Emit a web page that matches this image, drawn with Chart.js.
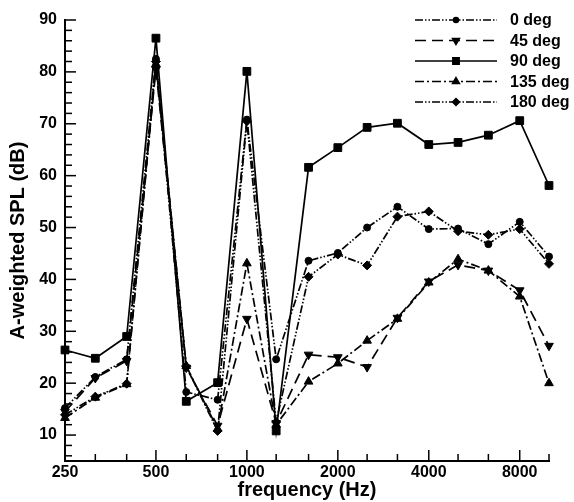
<!DOCTYPE html>
<html>
<head>
  <title>A-weighted SPL</title>
  <script src="https://cdn.jsdelivr.net/npm/chart.js"></script>
  <style>
    body { margin: 0; background: #fff; }
    #wrap { width: 574px; height: 502px; }
  </style>
</head>
<body>
  <div id="wrap"><canvas id="splChart" width="574" height="502"></canvas></div>
  <script>
    // 1/3 octave band centre frequencies (Hz)
    const freqs = [250, 315, 400, 500, 630, 800, 1000, 1250, 1600, 2000, 2500, 3150, 4000, 5000, 6300, 8000, 10000];
    const octaveLabels = [250, 500, 1000, 2000, 4000, 8000];
    const yTicks = [10, 20, 30, 40, 50, 60, 70, 80, 90];

    // A-weighted SPL (dB)
    const deg0   = [15.2, 21.2, 24.6, 82.5, 18.3, 16.8, 70.8, 24.6, 43.6, 45.1, 50.0, 54.0, 49.7, 49.8, 46.8, 51.1, 44.4];
    const deg45  = [14.5, 21.0, 24.3, 80.5, 23.0, 11.8, 32.4, 12.3, 25.5, 25.0, 23.1, 32.6, 39.6, 42.8, 41.7, 37.9, 27.2];
    const deg90  = [26.4, 24.8, 29.0, 86.5, 16.5, 20.1, 80.1, 10.8, 61.6, 65.4, 69.3, 70.1, 66.0, 66.4, 67.8, 70.6, 58.1];
    const deg135 = [13.3, 17.2, 19.8, 81.5, 23.3, 11.2, 43.1, 12.0, 20.3, 23.8, 28.2, 32.4, 39.4, 43.9, 41.7, 36.7, 20.0];
    const deg180 = [13.9, 17.4, 19.9, 82.0, 23.2, 10.8, 70.5, 12.5, 40.5, 44.8, 42.7, 52.1, 53.1, 49.3, 48.6, 49.7, 43.0];

    const FONT = "'Liberation Sans', Arial, sans-serif";

    function series(label, values, dash, style, radius, rotation) {
      return {
        label: label,
        data: freqs.map((f, i) => ({ x: f, y: values[i] })),
        borderColor: '#000',
        backgroundColor: '#000',
        borderWidth: 1.7,
        borderDash: dash,
        pointStyle: style,
        pointRadius: radius,
        pointRotation: rotation || 0,
        pointBorderWidth: 1,
        pointBackgroundColor: '#000',
        pointBorderColor: '#000',
        tension: 0,
        clip: false
      };
    }

    // inward ticks and the line-with-marker legend
    const decorPlugin = {
      id: 'decor',
      afterDraw(chart) {
        const ctx = chart.ctx;
        const xs = chart.scales.x, ys = chart.scales.y;
        const left = chart.chartArea.left, bottom = chart.chartArea.bottom;
        ctx.save();
        ctx.strokeStyle = '#000';
        ctx.lineWidth = 1.5;
        ctx.setLineDash([]);
        for (let v = 6; v <= 90; v += 2) {
          const y = ys.getPixelForValue(v);
          const len = v % 10 === 0 ? 11 : 7;
          ctx.beginPath(); ctx.moveTo(left, y); ctx.lineTo(left + len, y); ctx.stroke();
        }
        freqs.forEach(f => {
          const x = xs.getPixelForValue(f);
          const len = octaveLabels.includes(f) ? 11 : 7;
          ctx.beginPath(); ctx.moveTo(x, bottom); ctx.lineTo(x, bottom - len); ctx.stroke();
        });

        // legend
        const x0 = 415, x1 = 497, tx = 510;
        chart.data.datasets.forEach((ds, i) => {
          const y = 20 + i * 20.5;
          ctx.strokeStyle = '#000';
          ctx.lineWidth = 1.5;
          ctx.setLineDash(ds.borderDash);
          ctx.beginPath(); ctx.moveTo(x0, y); ctx.lineTo(x1, y); ctx.stroke();
          ctx.setLineDash([]);
          ctx.fillStyle = '#000';
          Chart.helpers.drawPoint(ctx, {
            pointStyle: ds.pointStyle, rotation: ds.pointRotation,
            radius: ds.pointRadius - 1, borderWidth: 1
          }, (x0 + x1) / 2, y);
          ctx.font = 'bold 16px ' + FONT;
          ctx.textBaseline = 'middle';
          ctx.textAlign = 'left';
          ctx.fillText(ds.label, tx, y + 1);
        });
        ctx.restore();
      }
    };

    new Chart(document.getElementById('splChart'), {
      type: 'line',
      data: {
        datasets: [
          series('0 deg', deg0, [8, 2, 1.5, 2, 1.5, 2], 'circle', 3.5),
          series('45 deg', deg45, [11, 6], 'triangle', 5, 180),
          series('90 deg', deg90, [], 'rect', 5.5),
          series('135 deg', deg135, [9, 3, 2, 3], 'triangle', 5),
          series('180 deg', deg180, [8, 2, 1.5, 2, 1.5, 2], 'rectRot', 4.5)
        ]
      },
      options: {
        responsive: false,
        animation: false,
        layout: { padding: { top: 20, right: 25, left: 0, bottom: 0 } },
        plugins: {
          legend: { display: false },
          tooltip: { enabled: false }
        },
        scales: {
          x: {
            type: 'logarithmic',
            min: 250,
            max: 10000,
            afterBuildTicks: scale => { scale.ticks = freqs.map(v => ({ value: v })); },
            afterFit: scale => { scale.height = 41; },
            grid: { display: false, drawTicks: false },
            border: { display: true, color: '#000', width: 2 },
            ticks: {
              autoSkip: false, maxRotation: 0, minRotation: 0, padding: 2,
              color: '#000',
              font: { family: FONT, size: 16, weight: 'bold' },
              callback: value => octaveLabels.includes(value) ? String(value) : ''
            },
            title: {
              display: true, text: 'frequency (Hz)', color: '#000',
              font: { family: FONT, size: 20, weight: 'bold' },
              padding: { top: 0, bottom: 0 }
            }
          },
          y: {
            min: 5,
            max: 90,
            afterBuildTicks: scale => { scale.ticks = yTicks.map(v => ({ value: v })); },
            afterFit: scale => { scale.width = 65; },
            grid: { display: false, drawTicks: false },
            border: { display: true, color: '#000', width: 2 },
            ticks: {
              padding: 8, color: '#000',
              font: { family: FONT, size: 16, weight: 'bold' }
            },
            title: {
              display: true, text: 'A-weighted SPL (dB)', color: '#000',
              font: { family: FONT, size: 20, weight: 'bold' },
              padding: { top: 6, bottom: 0 }
            }
          }
        }
      },
      plugins: [decorPlugin]
    });
  </script>
</body>
</html>
